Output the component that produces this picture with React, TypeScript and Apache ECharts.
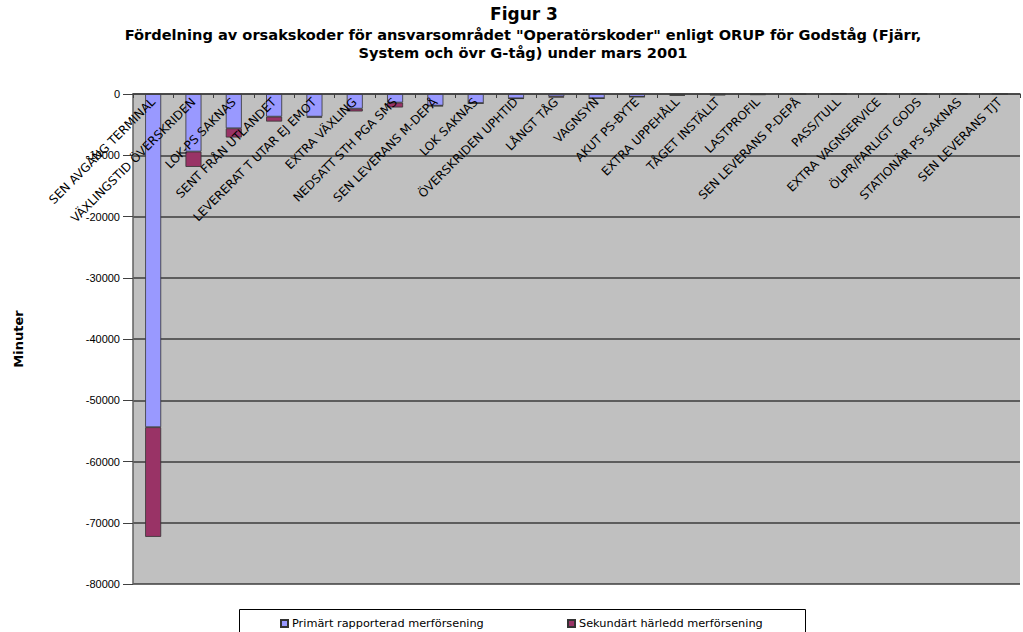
import React, { useEffect, useRef } from "react";
import * as echarts from "echarts";

const categories = [
  "SEN AVGÅNG TERMINAL",
  "VÄXLINGSTID ÖVERSKRIDEN",
  "LOK-PS SAKNAS",
  "SENT FRÅN UTLANDET",
  "LEVERERAT T UTAR EJ EMOT",
  "EXTRA VÄXLING",
  "NEDSATT STH PGA SMS",
  "SEN LEVERANS M-DEPÅ",
  "LOK SAKNAS",
  "ÖVERSKRIDEN UPHTID",
  "LÅNGT TÅG",
  "VAGNSYN",
  "AKUT PS-BYTE",
  "EXTRA UPPEHÅLL",
  "TÅGET INSTÄLLT",
  "LASTPROFIL",
  "SEN LEVERANS P-DEPÅ",
  "PASS/TULL",
  "EXTRA VAGNSERVICE",
  "ÖLPR/FARLIGT GODS",
  "STATIONÄR PS SAKNAS",
  "SEN LEVERANS TJT",
];

const primary = [
  -54400, -9400, -5600, -3700, -3700, -2400, -1400, -1900, -1500, -700, -400,
  -700, -450, -150, -80, -60, -40, -20, -10, -10, -5, -5,
];

const secondary = [
  -17900, -2500, -1500, -800, -150, -450, -800, -100, -30, -80, -180, -20,
  -20, -120, -120, -80, -20, -10, -5, -5, -5, -5,
];

const seriesNames = [
  "Primärt rapporterad merförsening",
  "Sekundärt härledd merförsening",
];

const yTicks = { min: -80000, max: 0, interval: 10000 };

export default function App() {
  const ref = useRef<HTMLDivElement>(null);
  useEffect(() => {
    if (!ref.current) return;
    const chart = echarts.init(ref.current, undefined, { renderer: "svg" });
    const font = "Liberation Sans, Arial, sans-serif";
    const wide = "DejaVu Sans, sans-serif";
    chart.setOption({
      animation: false,
      backgroundColor: "#ffffff",
      textStyle: { fontFamily: font },
      title: [
        {
          text: "Figur 3",
          left: 519,
          top: 0,
          textAlign: "center",
          textStyle: { fontSize: 17, fontWeight: "bold", color: "#000", fontFamily: wide },
        },
        {
          text:
            'Fördelning av orsakskoder för ansvarsområdet "Operatörskoder" enligt ORUP för Godståg (Fjärr,\nSystem och övr G-tåg) under mars 2001',
          left: 518,
          top: 20,
          textAlign: "center",
          textStyle: {
            fontSize: 14.6,
            fontWeight: "bold",
            color: "#000",
            lineHeight: 18,
            fontFamily: wide,
          },
        },
      ],
      graphic: [
        {
          type: "rect",
          shape: { x: 239.5, y: 609.5, width: 566, height: 30 },
          style: { fill: "#fff", stroke: "#000", lineWidth: 1 },
          z: -1,
        },
      ],
      legend: [
        {
          data: [seriesNames[0]],
          left: 275,
          top: 613,
          itemWidth: 7,
          itemHeight: 7,
          itemGap: 4,
          icon: "rect",
          textStyle: { fontSize: 11.3, color: "#000", fontFamily: wide, padding: [0, 0, 0, -1] },
        },
        {
          data: [seriesNames[1]],
          left: 562,
          top: 613,
          itemWidth: 7,
          itemHeight: 7,
          icon: "rect",
          textStyle: { fontSize: 11.3, color: "#000", fontFamily: wide, padding: [0, 0, 0, -1] },
        },
      ],
      grid: {
        left: 133,
        top: 94,
        right: 3,
        bottom: 48,
        show: true,
        backgroundColor: "#c0c0c0",
        borderWidth: 0,
        containLabel: false,
        outerBoundsMode: "none",
      },
      xAxis: {
        type: "category",
        data: categories,
        position: "top",
        z: 10,
        axisLine: { onZero: false, lineStyle: { color: "#404040", width: 1.5 } },
        axisTick: { show: true, inside: true, length: 4, lineStyle: { color: "#404040" } },
        axisLabel: {
          interval: 0,
          inside: true,
          rotate: -45,
          margin: 6,
          fontSize: 12,
          color: "#000",
          fontFamily: wide,
        },
      },
      yAxis: {
        type: "value",
        min: yTicks.min,
        max: yTicks.max,
        interval: yTicks.interval,
        name: "Minuter",
        nameLocation: "middle",
        nameRotate: 90,
        nameGap: 108,
        nameTextStyle: { fontSize: 13, fontWeight: "bold", color: "#000", fontFamily: wide },
        axisLine: { show: true, lineStyle: { color: "#606060", width: 1.5 } },
        axisTick: { show: true, length: 10, lineStyle: { color: "#404040" } },
        axisLabel: {
          fontSize: 11,
          color: "#000",
          margin: 13,
          fontFamily: font,
          formatter: (v: number) => String(v),
        },
        splitLine: { show: true, lineStyle: { color: "#3c3c3c", width: 1.5 } },
      },
      series: [
        {
          name: seriesNames[0],
          type: "bar",
          stack: "a",
          data: primary,
          barWidth: 16,
          itemStyle: { color: "#9999ff", borderColor: "#333", borderWidth: 0.8 },
        },
        {
          name: seriesNames[1],
          type: "bar",
          stack: "a",
          data: secondary,
          barWidth: 16,
          itemStyle: { color: "#993366", borderColor: "#333", borderWidth: 0.8 },
        },
      ],
    });
    return () => chart.dispose();
  }, []);
  return (
    <div
      ref={ref}
      style={{ position: "fixed", left: 0, top: 0, width: 1023, height: 632 }}
    />
  );
}
